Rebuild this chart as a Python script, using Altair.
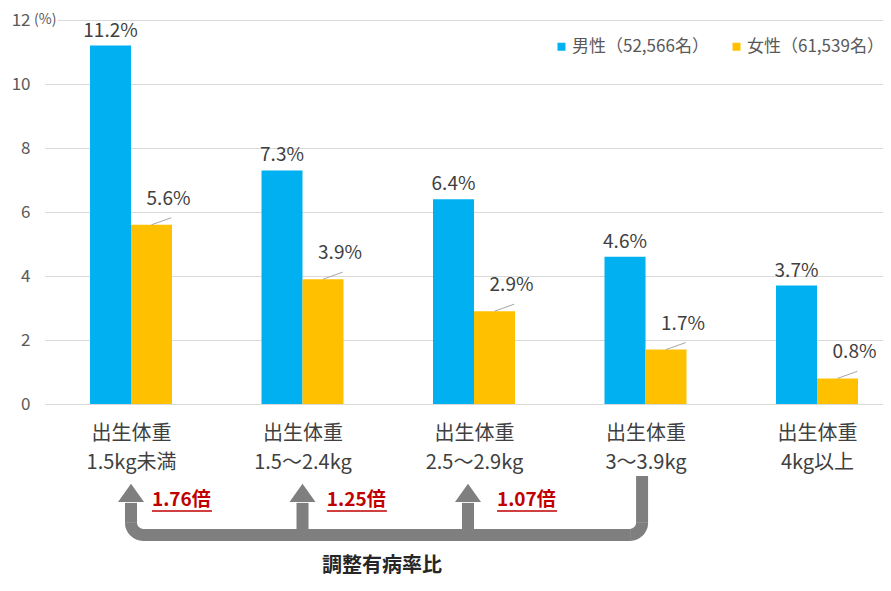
import math
import altair as alt
import pandas as pd

# ---------------- data ----------------
cat_line1 = ["出生体重", "出生体重", "出生体重", "出生体重", "出生体重"]
cat_line2 = ["1.5kg未満", "1.5～2.4kg", "2.5～2.9kg", "3～3.9kg", "4kg以上"]
series_names = ["男性（52,566名）", "女性（61,539名）"]
male = [11.2, 7.3, 6.4, 4.6, 3.7]
female = [5.6, 3.9, 2.9, 1.7, 0.8]
colors = ["#00B0F0", "#FFC000"]
y_ticks = [0, 2, 4, 6, 8, 10, 12]
ratio_labels = ["1.76倍", "1.25倍", "1.07倍"]
ratio_caption = "調整有病率比"
unit_label = "(%)"

# ---------------- layout (in scale units) ----------------
FONT = "Noto Sans CJK JP"
W, H = 838, 384
STEP = 171.5
PX_Y = H / 12.0
X_DOMAIN = [-0.5015, -0.5015 + W / STEP]
BW = 41 / STEP
ARROW_U = [0.0, 1.0, 1.965]
END_U = 2.98
RATIO_U = [0.122, 1.142, 2.134]
UNDER_W = 0.35
HEAD_Y, SHAFT_TOP, BASE_Y, END_TOP = -2.78, -3.09, -4.09, -2.25
RATIO_Y, UNDER_Y, CAPTION_Y = -3.0, -3.34, -5.05
CAPTION_U = 1.464
GRAY = "#7F7F7F"
LW = 12          # bracket stroke width (px)
RAD = 12         # bracket corner radius (px, centre line)
RX, RY = RAD / STEP, RAD / PX_Y

rows = []
for i in range(len(male)):
    rows.append({"idx": i, "series": series_names[0], "order": 0, "value": male[i]})
    rows.append({"idx": i, "series": series_names[1], "order": 1, "value": female[i]})
df = pd.DataFrame(rows)

xs = alt.Scale(domain=X_DOMAIN, nice=False, zero=False)
ys = alt.Scale(domain=[0, 12], nice=False, zero=True)

label_arr = "[" + ",".join(f"['{a}','{b}']" for a, b in zip(cat_line1, cat_line2)) + "]"

base = alt.Chart(df).transform_calculate(
    x0="datum.idx + (datum.order == 0 ? -%f : 0)" % BW,
    x1="datum.idx + (datum.order == 0 ? 0 : %f)" % BW,
    xc="datum.idx + (datum.order == 0 ? -%f : %f)" % (BW / 2, BW / 2),
    zero="0",
    lab="format(datum.value, '.1f') + '%'",
)

bars = base.mark_bar().encode(
    x=alt.X("x0:Q", scale=xs,
            axis=alt.Axis(values=list(range(len(male))), title=None, grid=False, domain=False,
                          ticks=False, labelExpr=f"{label_arr}[datum.value]",
                          labelFontSize=20, labelColor="#404040", labelFont=FONT,
                          labelBaseline="top", labelPadding=19, labelLineHeight=29,
                          labelFlush=False, labelOverlap=False)),
    x2="x1:Q",
    y=alt.Y("value:Q", scale=ys,
            axis=alt.Axis(values=y_ticks, title=None, domain=False, ticks=False,
                          gridColor="#D9D9D9", labelFontSize=17, labelColor="#595959",
                          labelFont=FONT, labelPadding=15)),
    y2="zero:Q",
    color=alt.Color("series:N", scale=alt.Scale(domain=series_names, range=colors),
                    legend=alt.Legend(title=None, orient="none", legendX=508, legendY=18,
                                      direction="horizontal", symbolType="square",
                                      symbolSize=64, labelFontSize=17, labelColor="#595959",
                                      labelFont=FONT, columnPadding=19, labelOffset=2,
                                      symbolStrokeWidth=0, labelLimit=200)),
)

male_labels = base.transform_filter("datum.order == 0").mark_text(
    dy=-15, fontSize=19, font=FONT, color="#404040", baseline="middle"
).encode(x=alt.X("xc:Q", scale=xs), y=alt.Y("value:Q", scale=ys), text="lab:N")

female_labels = base.transform_filter("datum.order == 1").mark_text(
    dy=-26, dx=17, fontSize=19, font=FONT, color="#404040", baseline="middle"
).encode(x=alt.X("xc:Q", scale=xs), y=alt.Y("value:Q", scale=ys), text="lab:N")

leaders = base.transform_filter("datum.order == 1").transform_calculate(
    lx="datum.xc + 0.115", ly="datum.value + 0.22"
).mark_rule(color="#A6A6A6", strokeWidth=1).encode(
    x=alt.X("xc:Q", scale=xs), x2="lx:Q", y=alt.Y("value:Q", scale=ys), y2="ly:Q")

# white patch so the 12 gridline starts after the unit label, as in the reference
unit_df = pd.DataFrame({"t": [unit_label], "x": [-0.5015 - 12 / STEP],
                        "xe": [-0.5015 + 13 / STEP], "y": [12]})
unit_mask = alt.Chart(unit_df).mark_rule(color="white", strokeWidth=3).encode(
    x=alt.X("x:Q", scale=xs), x2="xe:Q", y=alt.Y("y:Q", scale=ys))
unit = alt.Chart(unit_df).mark_text(
    align="left", baseline="middle", fontSize=14, font=FONT, color="#595959", dx=1
).encode(x=alt.X("x:Q", scale=xs), y=alt.Y("y:Q", scale=ys), text="t:N")

# bracket: straight segments
seg_df = pd.DataFrame({
    "x":  [ARROW_U[0], ARROW_U[0] + RX, END_U, ARROW_U[1], ARROW_U[2]],
    "x2": [ARROW_U[0], END_U - RX, END_U, ARROW_U[1], ARROW_U[2]],
    "y":  [SHAFT_TOP, BASE_Y, BASE_Y + RY, BASE_Y, BASE_Y],
    "y2": [BASE_Y + RY, BASE_Y, END_TOP, SHAFT_TOP, SHAFT_TOP],
})
segments = alt.Chart(seg_df).mark_rule(color=GRAY, strokeWidth=LW).encode(
    x=alt.X("x:Q", scale=xs), x2="x2:Q", y=alt.Y("y:Q", scale=ys), y2="y2:Q")

# bracket: rounded corners
corner_df = pd.DataFrame({
    "x": [ARROW_U[0] + RX, END_U - RX],
    "y": [BASE_Y + RY, BASE_Y + RY],
    "t1": [math.pi, math.pi / 2],
    "t2": [1.5 * math.pi, math.pi],
})
corners = alt.Chart(corner_df).mark_arc(
    radius=RAD + LW / 2, radius2=RAD - LW / 2, color=GRAY
).encode(x=alt.X("x:Q", scale=xs), y=alt.Y("y:Q", scale=ys),
         theta=alt.Theta("t1:Q", scale=None), theta2="t2:Q")

head_df = pd.DataFrame({"x": ARROW_U, "y": [HEAD_Y] * 3})
heads = alt.Chart(head_df).mark_point(
    shape="M0,-0.7L-1,0.7L1,0.7Z", size=676, filled=True, color=GRAY, opacity=1
).encode(x=alt.X("x:Q", scale=xs), y=alt.Y("y:Q", scale=ys))

ratio_df = pd.DataFrame({"x": RATIO_U, "y": [RATIO_Y] * 3, "t": ratio_labels,
                         "xe": [u + UNDER_W for u in RATIO_U], "uy": [UNDER_Y] * 3})
ratios = alt.Chart(ratio_df).mark_text(
    align="left", baseline="middle", fontSize=19, fontWeight="bold", font=FONT, color="#C00000"
).encode(x=alt.X("x:Q", scale=xs), y=alt.Y("y:Q", scale=ys), text="t:N")
underlines = alt.Chart(ratio_df).mark_rule(color="#C00000", strokeWidth=1.5).encode(
    x=alt.X("x:Q", scale=xs), x2="xe:Q", y=alt.Y("uy:Q", scale=ys))

caption = alt.Chart(pd.DataFrame({"t": [ratio_caption], "x": [CAPTION_U], "y": [CAPTION_Y]})).mark_text(
    align="center", baseline="middle", fontSize=20, fontWeight="bold", font=FONT, color="#262626"
).encode(x=alt.X("x:Q", scale=xs), y=alt.Y("y:Q", scale=ys), text="t:N")

chart = alt.layer(
    bars, leaders, male_labels, female_labels, unit_mask, unit,
    segments, corners, heads, ratios, underlines, caption
).properties(
    width=W, height=H,
    autosize=alt.AutoSizeParams(type="none"),
    padding={"left": 37, "top": 12, "right": 0, "bottom": 174},
    background="white",
).configure_view(stroke=None)

chart.save("out.html", embed_options={"renderer": "svg", "actions": False})
